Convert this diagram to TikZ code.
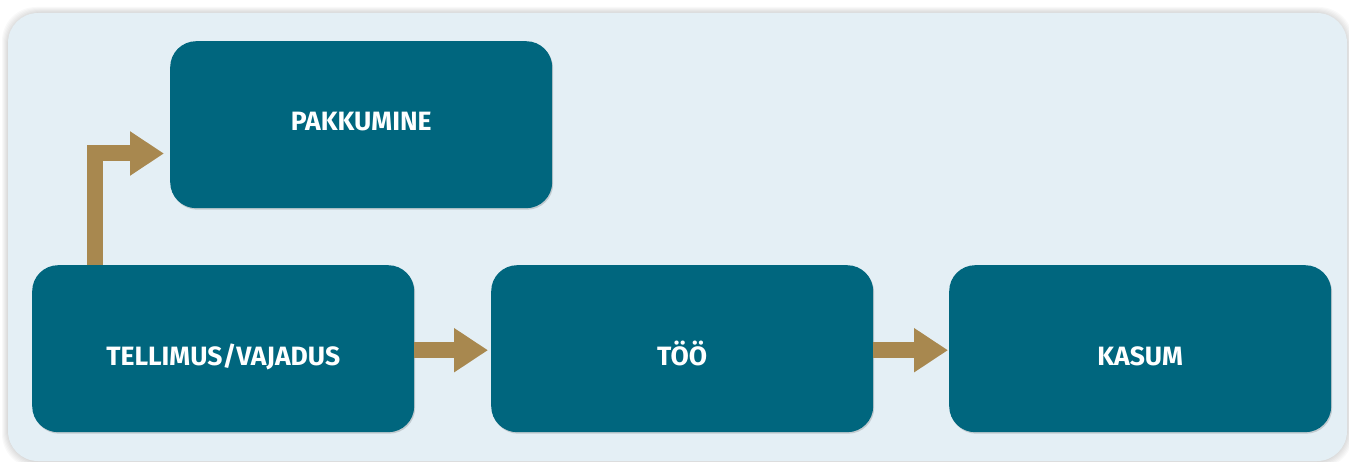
\documentclass[tikz,border=0pt]{standalone}
\usepackage{fontspec}
\setmainfont{Fira Sans}
\usetikzlibrary{arrows.meta,shadows,calc}
\definecolor{panelbg}{HTML}{E4EFF5}
\definecolor{boxteal}{HTML}{00667E}
\definecolor{gold}{HTML}{A8884F}
\tikzset{
  stepbox/.style={fill=boxteal, rounded corners=26pt, minimum width=382pt, minimum height=167pt,
    inner sep=0pt, anchor=north west, text=white, font=\bfseries\fontsize{26.5}{30}\selectfont,
    text depth=0pt, text height=33pt,
    drop shadow={shadow xshift=1pt, shadow yshift=-1.5pt, opacity=0.15, fill=black}},
  uprow/.style={text height=12.3pt},
  flow/.style={draw=gold, line width=16pt, line join=miter,
    -{Triangle[length=34pt, width=42pt]}},
  softshadow/.style={fill=black, opacity=0.025, rounded corners=34pt}
}
\begin{document}
\begin{tikzpicture}[x=1pt,y=-1pt]
\useasboundingbox (0,0) rectangle (1349,462);
\fill[white] (0,0) rectangle (1349,462);
\foreach \d in {1,2,...,6}{
  \fill[softshadow] (8-\d,13-\d) rectangle (1347+\d,462+\d);
}
\fill[panelbg, rounded corners=30pt] (8,13) rectangle (1347,461);
\node[stepbox, uprow] (pak) at (170,41) {PAKKUMINE};
\node[stepbox] (tell) at (32,265) {TELLIMUS/VAJADUS};
\node[stepbox] (too) at (491,265) {TÖÖ};
\node[stepbox] (kas) at (949,265) {KASUM};
\coordinate (elb) at (95,153.5);
\draw[flow, shorten >=6pt] (tell.north -| elb) |- (elb -| pak.west);
\draw[flow, shorten >=3pt] ($(tell.east)+(0,1.5)$) -- ($(too.west)+(0,1.5)$);
\draw[flow, shorten >=1pt] ($(too.east)+(0,1.5)$) -- ($(kas.west)+(0,1.5)$);
\end{tikzpicture}
\end{document}
